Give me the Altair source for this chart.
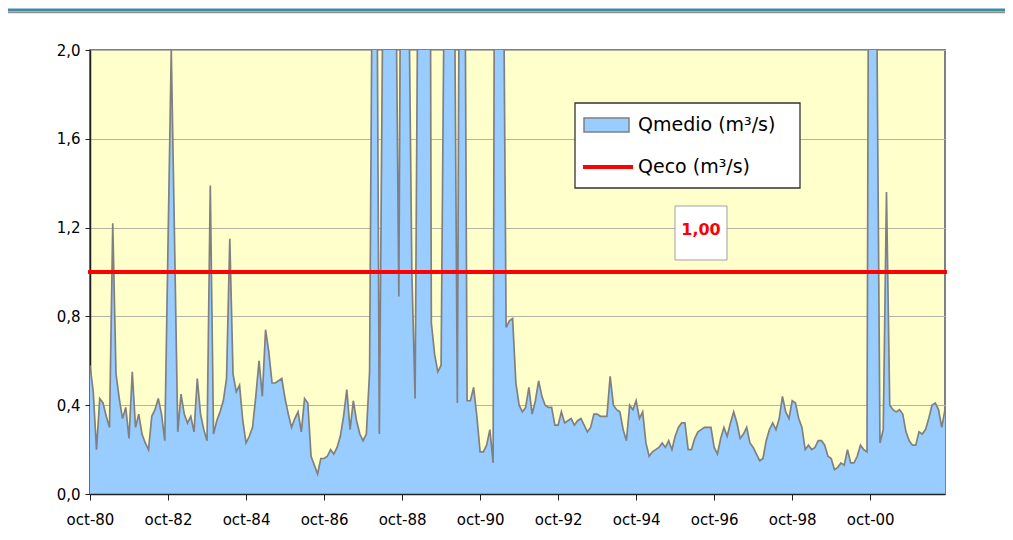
import altair as alt
import pandas as pd

# ---- data (monthly, oct-80 .. sep-02) ----
tick_labels = ["oct-80", "oct-82", "oct-84", "oct-86", "oct-88", "oct-90",
               "oct-92", "oct-94", "oct-96", "oct-98", "oct-00"]
y_ticks = [0.0, 0.4, 0.8, 1.2, 1.6, 2.0]

qmedio = [
    0.58, 0.46, 0.20, 0.43, 0.41, 0.35, 0.30, 1.22, 0.54, 0.43, 0.34, 0.39,
    0.25, 0.55, 0.30, 0.36, 0.27, 0.23, 0.20, 0.35, 0.38, 0.43, 0.36, 0.24,
    1.13, 2.00, 1.15, 0.28, 0.45, 0.36, 0.32, 0.35, 0.28, 0.52, 0.36, 0.29,
    0.24, 1.39, 0.27, 0.33, 0.37, 0.42, 0.52, 1.15, 0.54, 0.46, 0.49, 0.33,
    0.23, 0.26, 0.30, 0.44, 0.60, 0.44, 0.74, 0.64, 0.50, 0.50, 0.51, 0.52,
    0.43, 0.36, 0.30, 0.34, 0.37, 0.28, 0.43, 0.41, 0.17, 0.13, 0.09, 0.16,
    0.16, 0.17, 0.20, 0.18, 0.21, 0.26, 0.35, 0.47, 0.29, 0.42, 0.33, 0.27,
    0.24, 0.27, 0.55, 2.80, 3.20, 0.27, 2.10, 4.50, 5.00, 3.50, 2.50, 0.89,
    3.80, 3.00, 2.40, 1.00, 0.43, 2.70, 3.50, 4.00, 6.00, 0.77, 0.63, 0.55,
    0.58, 2.40, 4.00, 4.00, 2.60, 0.41, 3.90, 3.50, 0.42, 0.42, 0.48, 0.35,
    0.19, 0.19, 0.22, 0.29, 0.14, 6.00, 5.00, 2.80, 0.75, 0.78, 0.79, 0.50,
    0.40, 0.37, 0.39, 0.48, 0.36, 0.42, 0.51, 0.44, 0.40, 0.39, 0.39, 0.31,
    0.31, 0.37, 0.32, 0.33, 0.34, 0.31, 0.33, 0.34, 0.31, 0.28, 0.30, 0.36,
    0.36, 0.35, 0.35, 0.35, 0.53, 0.40, 0.38, 0.37, 0.29, 0.24, 0.40, 0.38,
    0.42, 0.34, 0.37, 0.23, 0.17, 0.19, 0.20, 0.21, 0.23, 0.21, 0.24, 0.20,
    0.26, 0.30, 0.32, 0.32, 0.20, 0.20, 0.25, 0.28, 0.29, 0.30, 0.30, 0.30,
    0.21, 0.18, 0.25, 0.30, 0.26, 0.32, 0.37, 0.32, 0.25, 0.27, 0.30, 0.23,
    0.21, 0.18, 0.15, 0.16, 0.24, 0.29, 0.32, 0.29, 0.34, 0.44, 0.37, 0.34,
    0.42, 0.41, 0.34, 0.30, 0.20, 0.22, 0.20, 0.21, 0.24, 0.24, 0.22, 0.17,
    0.16, 0.11, 0.12, 0.14, 0.13, 0.20, 0.14, 0.14, 0.17, 0.22, 0.20, 0.19,
    5.00, 4.00, 2.20, 0.23, 0.29, 1.36, 0.40, 0.38, 0.37, 0.38, 0.36, 0.28,
    0.24, 0.22, 0.22, 0.28, 0.27, 0.29, 0.34, 0.40, 0.41, 0.38, 0.30, 0.38,
]
qeco = 1.00
series_names = ["Qmedio (m³/s)", "Qeco (m³/s)"]

FONT = "DejaVu Sans"
months = list(range(len(qmedio)))
df = pd.DataFrame({"month": months, "qmedio": qmedio})
eco_df = pd.DataFrame({"start": [months[0]], "end": [months[-1]], "qeco": [qeco],
                       "label": [f"{qeco:.2f}".replace(".", ",")]})
one = pd.DataFrame({"a": [0]})

labels_js = "[" + ",".join(f"'{t}'" for t in tick_labels) + "]"

x_enc = alt.X(
    "month:Q",
    scale=alt.Scale(domain=[months[0], months[-1]], nice=False, zero=False),
    axis=alt.Axis(values=list(range(0, len(qmedio), 24)),
                  labelExpr=labels_js + "[round(datum.value/24)]",
                  title=None, grid=False, tickSize=6, tickColor="#222222",
                  domainColor="#222222", domainWidth=1.5, labelPadding=12,
                  labelFlush=False, labelOverlap=False, labelBound=False,
                  labelFont=FONT, labelFontSize=15, labelColor="#000000",
                  zindex=1),
)
y_enc = alt.Y(
    "qmedio:Q",
    scale=alt.Scale(domain=[0, 2], nice=False, zero=True),
    axis=alt.Axis(values=y_ticks,
                  labelExpr="replace(format(datum.value,'.1f'),'.',',')",
                  title=None, grid=True, gridColor="#B4B4A4", gridWidth=1.2,
                  tickSize=5, tickColor="#222222", domainColor="#222222",
                  domainWidth=1.5, labelPadding=5, labelFont=FONT,
                  labelFlush=False, labelFontSize=15, labelColor="#000000"),
)

area = alt.Chart(df).mark_area(clip=True, color="#99CCFF", opacity=1,
                               interpolate="linear").encode(x=x_enc, y=y_enc)
line = alt.Chart(df).mark_line(clip=True, color="#808080", strokeWidth=1.7,
                               interpolate="linear").encode(x="month:Q", y="qmedio:Q")
eco = alt.Chart(eco_df).mark_rule(color="#FF0000", strokeWidth=4, strokeCap="square").encode(
    x="start:Q", x2="end:Q", y="qeco:Q")

# data label box of Qeco
lbl_box = alt.Chart(one).mark_rect(fill="white", stroke="#A0A0A0", strokeWidth=1).encode(
    x=alt.value(585), x2=alt.value(637), y=alt.value(156), y2=alt.value(210))
lbl_txt = alt.Chart(eco_df).mark_text(color="#FF0000", font=FONT, fontSize=16,
                                      fontWeight="bold", align="center",
                                      baseline="middle").encode(
    x=alt.value(611), y=alt.value(180), text="label:N")

# legend
leg_box = alt.Chart(one).mark_rect(fill="white", stroke="#333333", strokeWidth=1.3).encode(
    x=alt.value(485), x2=alt.value(710), y=alt.value(53), y2=alt.value(138))
leg_sw = alt.Chart(one).mark_rect(fill="#99CCFF", stroke="#808080", strokeWidth=1.5).encode(
    x=alt.value(494), x2=alt.value(539), y=alt.value(68), y2=alt.value(82))
leg_ln = alt.Chart(one).mark_rule(color="#FF0000", strokeWidth=4).encode(
    x=alt.value(493), x2=alt.value(543), y=alt.value(117))
leg_t1 = alt.Chart(one).mark_text(text=series_names[0], font=FONT, fontSize=19,
                                  align="left", baseline="middle", color="#000000").encode(
    x=alt.value(548), y=alt.value(75))
leg_t2 = alt.Chart(one).mark_text(text=series_names[1], font=FONT, fontSize=19,
                                  align="left", baseline="middle", color="#000000").encode(
    x=alt.value(548), y=alt.value(117))

# frame decorations (top border of the document frame)
frame_top = alt.Chart(one).mark_rule(color="#3A8CA0", strokeWidth=3).encode(
    x=alt.value(-82), x2=alt.value(915), y=alt.value(-40))
frame_top2 = alt.Chart(one).mark_rule(color="#909090", strokeWidth=1.5).encode(
    x=alt.value(-82), x2=alt.value(915), y=alt.value(-37.5))

chart = alt.layer(
    area, line, eco, lbl_box, lbl_txt, leg_box, leg_sw, leg_ln, leg_t1, leg_t2,
    frame_top, frame_top2,
).properties(
    width=855, height=444,
    padding={"left": 82, "top": 42, "right": 60, "bottom": 40},
    autosize="none",
    background="white",
).configure_view(
    fill="#FFFFCC", stroke="#808080", strokeWidth=2,
)

chart.save("out.html", embed_options={"renderer": "svg", "actions": False})
